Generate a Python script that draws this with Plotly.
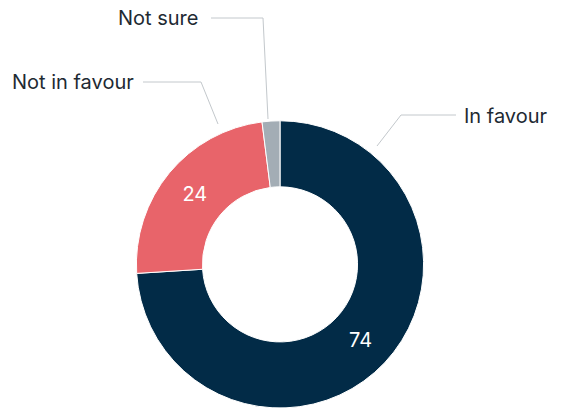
import plotly.graph_objects as go

# Survey responses
categories = ["In favour", "Not in favour", "Not sure"]
values = [74, 24, 2]
colors = ["#022b47", "#e8646a", "#a3adb5"]
inside_text = ["74", "24", ""]

W, H = 561, 408


def px(x):
    return x / W


def py(y):
    return 1 - y / H


fig = go.Figure(
    go.Pie(
        labels=categories,
        values=values,
        text=inside_text,
        texttemplate="%{text}",
        textposition="inside",
        insidetextorientation="horizontal",
        textfont=dict(family="Inter", size=20, color="white"),
        marker=dict(colors=colors, line=dict(color="white", width=1)),
        hole=0.54,
        sort=False,
        direction="clockwise",
        rotation=0,
        hoverinfo="skip",
        showlegend=False,
        domain=dict(x=[px(136), px(424)], y=[0, 0.704]),
    )
)

# Outside labels with leader lines
label_font = dict(family="Inter", size=20, color="#1e2a33")
leaders = [
    ("In favour", [(377, 146), (401, 115), (456, 115)], (462, 116), "left"),
    ("Not in favour", [(218, 124), (201, 82), (143, 82)], (136, 82), "right"),
    ("Not sure", [(268, 119), (263, 18), (211, 18)], (200, 18), "right"),
]

shapes = []
annotations = []
for name, pts, (tx, ty), anchor in leaders:
    path = "M " + " L ".join(f"{px(x)},{py(y)}" for x, y in pts)
    shapes.append(dict(type="path", path=path, xref="paper", yref="paper",
                       line=dict(color="#c3c8cc", width=1)))
    annotations.append(dict(text=name, x=px(tx), y=py(ty), xref="paper", yref="paper",
                            xanchor=anchor, yanchor="middle", showarrow=False,
                            font=label_font))

fig.update_layout(
    width=W,
    height=H,
    margin=dict(l=0, r=0, t=0, b=0),
    paper_bgcolor="white",
    plot_bgcolor="white",
    shapes=shapes,
    annotations=annotations,
)

fig.write_html("out.html")
